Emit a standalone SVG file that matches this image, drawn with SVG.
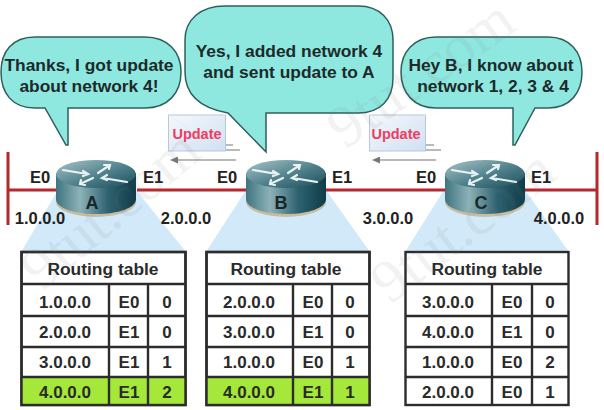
<svg xmlns="http://www.w3.org/2000/svg" width="604" height="410" viewBox="0 0 604 410">
<style>
text{font-family:"Liberation Sans",Arial,sans-serif;font-weight:bold;fill:#222;text-anchor:middle}
.bubble{fill:#8fe8e0;stroke:#2f5f5c;stroke-width:1.5}
.say{font-size:17.400px;fill:#1c2a2a}
.lbl{font-size:16.500px}
.cell{font-size:17px;fill:#2a2a2a}
.hd{font-size:17.400px;fill:#2a2a2a}
.tbl{fill:#fff;stroke:#2c2c2c;stroke-width:2.4}
.grn{fill:#a6e83a}
.ln{stroke:#2c2c2c;stroke-width:2.4;fill:none}
.red{stroke:#b5282c;stroke-width:3;fill:none}
.beam{fill:#d2e9f9}
.wm{font-family:"Liberation Serif",serif;font-size:60px;font-weight:normal;fill:#777;opacity:.09;text-anchor:start}
.env{fill:url(#envG);stroke:#b8c8dc;stroke-width:1}
.upd{font-size:14.500px;fill:#ee3c62}
.thin{stroke:#777;stroke-width:1.200;fill:none}
.rarrow{stroke:#e8f2f2;stroke-width:2.200;fill:none;stroke-linecap:round}
.rn{font-size:18px;fill:#16262a}
</style>
<defs>
<linearGradient id="body" x1="0" x2="1" y1="0" y2="0"><stop offset="0" stop-color="#3f7480"/><stop offset=".3" stop-color="#8db2b8"/><stop offset=".65" stop-color="#2f6270"/><stop offset="1" stop-color="#0f3c48"/></linearGradient>
<linearGradient id="top" x1="0" x2="1" y1="0" y2="1"><stop offset="0" stop-color="#a8c4c8"/><stop offset=".55" stop-color="#4d7f8a"/><stop offset="1" stop-color="#1b4c58"/></linearGradient>
<linearGradient id="envG" x1="0" x2="1" y1="0" y2="1"><stop offset="0" stop-color="#f6f8fc"/><stop offset="1" stop-color="#cfe0f2"/></linearGradient>
<marker id="ah" markerUnits="userSpaceOnUse" markerWidth="9" markerHeight="7" refX="1" refY="3.500" orient="auto"><path d="M0,0 L8,3.500 L0,7 Z" fill="#777"/></marker>
<g id="rt">
<ellipse cx="41" cy="42" rx="40" ry="15" fill="#c9bda0"/>
<path d="M1,13 V39 C1,48 19,54 41,54 C63,54 81,48 81,39 V13 Z" fill="url(#body)"/>
<ellipse cx="41" cy="14" rx="40" ry="14" fill="url(#top)"/>
<path class="rarrow" d="M8,10 L32,14 M28,11 L33,14 L28,16"/>
<path class="rarrow" d="M43,13 L55,5 M49,5 L55,5 L54,9"/>
<path class="rarrow" d="M72,22 L48,18 M52,15 L47,18 L52,20"/>
<path class="rarrow" d="M38,18 L25,24 M26,20 L25,24 L30,25"/>
</g>
</defs>
<rect width="604" height="410" fill="#fff"/>

<polygon class="beam" points="58,190 136,190 186,252 21,252"/>
<polygon class="beam" points="246,190 326,190 370,252 206,252"/>
<polygon class="beam" points="444,190 525,190 569,252 405,252"/>

<g id="connectors">
<path class="red" d="M8,152 V225 M8,190 H60 M137,190 H246 M325,190 H445 M524,190 H597 M597,152 V225"/>
<path class="thin" d="M226,145 H233 M226,150 H240"/>
<path class="thin" d="M236,160 H177" marker-end="url(#ah)"/>
<path class="thin" d="M426,145 H434 M426,150 H441"/>
<path class="thin" d="M436,160 H379" marker-end="url(#ah)"/>
</g>

<g id="router-a"><use href="#rt" x="55" y="160"/><text class="rn" x="92" y="209">A</text></g>
<g id="router-b"><use href="#rt" x="245" y="160"/><text class="rn" x="281" y="209">B</text></g>
<g id="router-c"><use href="#rt" x="444" y="160"/><text class="rn" x="481" y="209">C</text></g>

<g id="bubble-a">
<path class="bubble" d="M35,37 H145 C168,37 181,52 181,72 C181,93 168,108 145,108 H68 V145 H66 L45,108 H35 C12,108 1,93 1,72 C1,52 12,37 35,37 Z"/>
<text class="say" x="89" y="71">Thanks, I got update</text>
<text class="say" x="89" y="92">about network 4!</text>
</g>
<g id="bubble-b">
<path class="bubble" d="M225,6 H358 C380,6 393,20 393,40 V78 C393,100 380,113 358,113 H266 V152 L228,113 C200,108 185,95 185,72 V40 C185,20 200,6 225,6 Z"/>
<text class="say" x="289" y="57">Yes, I added network 4</text>
<text class="say" x="289" y="78">and sent update to A</text>
</g>
<g id="bubble-c">
<path class="bubble" d="M436,37 H548 C570,37 582,52 582,72 C582,93 570,108 548,108 H535 L515,145 H513 V108 H436 C414,108 401,93 401,72 C401,52 414,37 436,37 Z"/>
<text class="say" x="491" y="71">Hey B, I know about</text>
<text class="say" x="493" y="92">network 1, 2, 3 &amp; 4</text>
</g>

<g id="update-1"><rect class="env" x="168.500" y="115" width="57" height="36"/><path d="M169,115 L197,135 L225,115" fill="none" stroke="#e4ecf6" stroke-width="1"/><text class="upd" x="197" y="139">Update</text></g>
<g id="update-2"><rect class="env" x="369.500" y="115" width="56" height="36"/><path d="M370,115 L397,135 L425,115" fill="none" stroke="#e4ecf6" stroke-width="1"/><text class="upd" x="396" y="139">Update</text></g>

<g id="labels">
<text class="lbl" x="40" y="183">E0</text><text class="lbl" x="153" y="183">E1</text>
<text class="lbl" x="227" y="183">E0</text><text class="lbl" x="342" y="183">E1</text>
<text class="lbl" x="426" y="183">E0</text><text class="lbl" x="541" y="183">E1</text>
<text class="lbl" x="40" y="224">1.0.0.0</text><text class="lbl" x="186" y="224">2.0.0.0</text>
<text class="lbl" x="388" y="224">3.0.0.0</text><text class="lbl" x="559" y="224">4.0.0.0</text>
</g>

<g id="table-a">
<rect class="tbl" x="21.500" y="252" width="164" height="153"/>
<rect class="grn" x="22" y="377" width="163" height="28"/>
<rect class="ln" x="21.500" y="252" width="164" height="153"/>
<path class="ln" d="M21,284 H186 M21,316 H186 M21,347 H186 M21,377 H186 M109,284 V405 M148,284 V405"/>
<text class="hd" x="103" y="275">Routing table</text>
<text class="cell" x="65" y="308">1.0.0.0</text><text class="cell" x="129" y="308">E0</text><text class="cell" x="167" y="308">0</text>
<text class="cell" x="65" y="338">2.0.0.0</text><text class="cell" x="129" y="338">E1</text><text class="cell" x="167" y="338">0</text>
<text class="cell" x="65" y="368">3.0.0.0</text><text class="cell" x="129" y="368">E1</text><text class="cell" x="167" y="368">1</text>
<text class="cell" x="65" y="398">4.0.0.0</text><text class="cell" x="129" y="398">E1</text><text class="cell" x="167" y="398">2</text>
</g>
<g id="table-b">
<rect class="tbl" x="206.500" y="252" width="163" height="153"/>
<rect class="grn" x="207" y="377" width="162" height="28"/>
<rect class="ln" x="206.500" y="252" width="163" height="153"/>
<path class="ln" d="M206,284 H370 M206,316 H370 M206,347 H370 M206,377 H370 M293,284 V405 M332,284 V405"/>
<text class="hd" x="286" y="275">Routing table</text>
<text class="cell" x="249" y="308">2.0.0.0</text><text class="cell" x="313" y="308">E0</text><text class="cell" x="350" y="308">0</text>
<text class="cell" x="249" y="338">3.0.0.0</text><text class="cell" x="313" y="338">E1</text><text class="cell" x="350" y="338">0</text>
<text class="cell" x="249" y="368">1.0.0.0</text><text class="cell" x="313" y="368">E0</text><text class="cell" x="350" y="368">1</text>
<text class="cell" x="249" y="398">4.0.0.0</text><text class="cell" x="313" y="398">E1</text><text class="cell" x="350" y="398">1</text>
</g>
<g id="table-c">
<rect class="tbl" x="405.500" y="252" width="163" height="153"/>
<path class="ln" d="M405,284 H569 M405,316 H569 M405,347 H569 M405,377 H569 M492,284 V405 M532,284 V405"/>
<text class="hd" x="487" y="275">Routing table</text>
<text class="cell" x="448" y="308">3.0.0.0</text><text class="cell" x="512" y="308">E0</text><text class="cell" x="550" y="308">0</text>
<text class="cell" x="448" y="338">4.0.0.0</text><text class="cell" x="512" y="338">E1</text><text class="cell" x="550" y="338">0</text>
<text class="cell" x="448" y="368">1.0.0.0</text><text class="cell" x="512" y="368">E0</text><text class="cell" x="550" y="368">2</text>
<text class="cell" x="448" y="398">2.0.0.0</text><text class="cell" x="512" y="398">E0</text><text class="cell" x="550" y="398">1</text>
</g>

<g id="watermarks">
<text class="wm" transform="translate(345,150) rotate(-35)">9tut.com</text>
<text class="wm" transform="translate(42,292) rotate(-40)">9tut.com</text>
<text class="wm" transform="translate(390,305) rotate(-37)">9tut.com</text>
</g>
</svg>
